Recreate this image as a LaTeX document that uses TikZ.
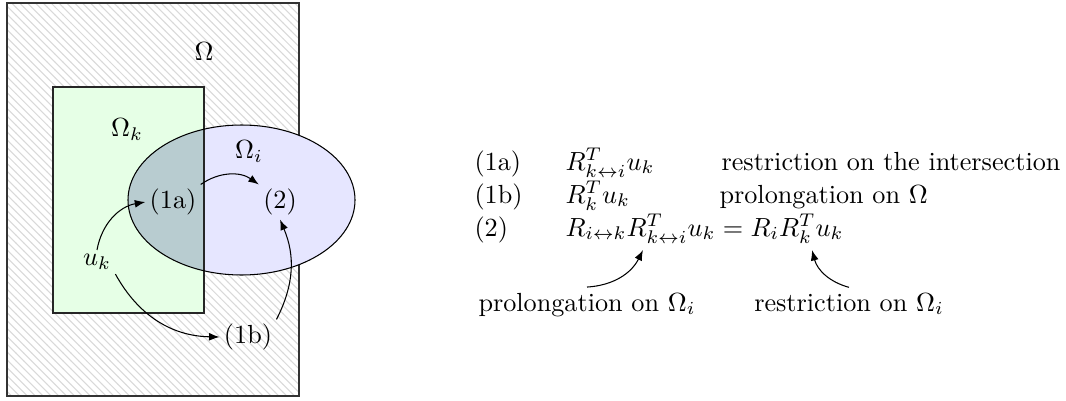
\documentclass[tikz,border=0pt]{standalone}
\usetikzlibrary{patterns,arrows.meta}
\definecolor{gfill}{RGB}{230,255,230}
\definecolor{bfill}{RGB}{230,230,255}
\definecolor{ifill}{RGB}{184,204,208}
\begin{document}
\begin{tikzpicture}[x=0.3817pt,y=0.3817pt,
  lbl/.style={inner sep=1.5pt},
  arr/.style={-{Latex[length=4pt,width=3pt]},thin},
  rowtxt/.style={anchor=base west,inner sep=0pt}]
\useasboundingbox (0,0) rectangle (1066,-400);
% outer domain
\fill[white] (7,-3) rectangle (299,-396);
\fill[pattern=north west lines,pattern color=gray!30] (7,-3) rectangle (299,-396);
\draw[black!80] (7,-3) rectangle (299,-396);
% subdomains
\fill[gfill] (53,-87) rectangle (204,-313);
\fill[bfill] (241.5,-200) ellipse [x radius=113.5,y radius=75];
\begin{scope}
  \clip (53,-87) rectangle (204,-313);
  \fill[ifill] (241.5,-200) ellipse [x radius=113.5,y radius=75];
\end{scope}
\draw[black!85] (53,-87) rectangle (204,-313);
\draw[black] (241.5,-200) ellipse [x radius=113.5,y radius=75];
% labels
\node[lbl] (om) at (204,-52) {$\Omega$};
\node[lbl] (omk) at (127,-130) {$\Omega_k$};
\node[lbl] (omi) at (249,-152) {$\Omega_i$};
\node[lbl] (n1a) at (173,-202) {(1a)};
\node[lbl] (n2) at (280,-202) {(2)};
\node[lbl] (uk) at (97,-262) {$u_k$};
\node[lbl] (n1b) at (248,-337) {(1b)};
% arrows
\draw[arr] (uk.north) to[bend left=35] (n1a.west);
\draw[arr] (n1a.north east) to[bend left=35] (n2.north west);
\draw[arr] (uk.south east) to[bend right=30] (n1b.west);
\draw[arr] (n1b.north east) to[bend right=25] (n2.south);
% legend
\node[rowtxt] (l1a) at (474,-170) {(1a)};
\node[rowtxt] (e1a) at (565,-170) {$R^T_{k\leftrightarrow i}u_k$};
\node[rowtxt] (d1a) at (721,-170) {restriction on the intersection};
\node[rowtxt] (l1b) at (474,-203) {(1b)};
\node[rowtxt] (e1b) at (565,-203) {$R^T_k u_k$};
\node[rowtxt] (d1b) at (719,-203) {prolongation on $\Omega$};
\node[rowtxt] (l2) at (474,-236) {(2)};
\node[rowtxt] (e2) at (565,-236) {$R_{i\leftrightarrow k}R^T_{k\leftrightarrow i}u_k = R_iR^T_k u_k$};
\node[inner sep=2pt,anchor=base] (pl) at (587,-311) {prolongation on $\Omega_i$};
\node[inner sep=2pt,anchor=base] (rs) at (849,-311) {restriction on $\Omega_i$};
\coordinate (t1) at (643,-250);
\coordinate (t2) at (812,-250);
\draw[arr] (pl.north) to[bend right=30] (t1);
\draw[arr] (rs.north) to[bend left=30] (t2);
\end{tikzpicture}
\end{document}
